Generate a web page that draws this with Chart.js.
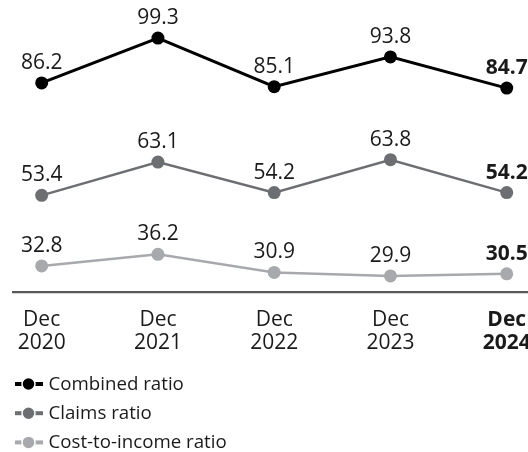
<!DOCTYPE html>
<html>
<head>
<meta charset="utf-8">
<style>
  html, body { margin: 0; padding: 0; background: #ffffff; }
  #wrap { width: 528px; height: 452px; position: relative; }
</style>
<script src="https://cdn.jsdelivr.net/npm/chart.js@4.4.1/dist/chart.umd.min.js"></script>
</head>
<body>
<div id="wrap"><canvas id="ratios"></canvas></div>
<script>
// Reporting periods (two-line axis labels)
const periods = [['Dec', '2020'], ['Dec', '2021'], ['Dec', '2022'], ['Dec', '2023'], ['Dec', '2024']];

// Ratios in %
const combinedRatio = [86.2, 99.3, 85.1, 93.8, 84.7];
const claimsRatio = [53.4, 63.1, 54.2, 63.8, 54.2];
const costToIncomeRatio = [32.8, 36.2, 30.9, 29.9, 30.5];

const seriesNames = ['Combined ratio', 'Claims ratio', 'Cost-to-income ratio'];
const seriesColors = ['#000000', '#6d6e71', '#a7a9ac'];
const seriesWidths = [3, 2.5, 2.5];

const FONT = '"Open Sans", "Noto Sans", sans-serif';
const TEXT = '#1a1a1a';
const lastIdx = periods.length - 1;

const seriesValues = [combinedRatio, claimsRatio, costToIncomeRatio];

const datasets = seriesValues.map((vals, s) => ({
  label: seriesNames[s],
  data: vals.map((v, i) => ({ x: i, y: v })),
  borderColor: seriesColors[s],
  backgroundColor: seriesColors[s],
  borderWidth: seriesWidths[s],
  pointRadius: 6.5,
  pointHoverRadius: 6.5,
  pointBorderWidth: 0,
  pointBackgroundColor: seriesColors[s],
  tension: 0,
  clip: false
}));

// Value labels above every point; the latest period is set in bold
const valueLabels = {
  id: 'valueLabels',
  afterDatasetsDraw(chart) {
    const ctx = chart.ctx;
    ctx.save();
    ctx.fillStyle = TEXT;
    ctx.textAlign = 'center';
    ctx.textBaseline = 'alphabetic';
    chart.data.datasets.forEach((ds, di) => {
      const meta = chart.getDatasetMeta(di);
      meta.data.forEach((pt, i) => {
        const v = ds.data[i].y;
        ctx.font = (i === lastIdx ? 'bold ' : '') + '21px ' + FONT;
        ctx.fillText(v.toFixed(1), pt.x, pt.y - 14);
      });
    });
    ctx.restore();
  }
};

// Vertical key under the axis labels
const seriesKey = {
  id: 'seriesKey',
  afterDraw(chart) {
    const ctx = chart.ctx;
    const top = chart.chartArea.bottom;
    ctx.save();
    chart.data.datasets.forEach((ds, di) => {
      const base = top + 98 + di * 29.2;
      const cy = base - 6;
      const col = ds.borderColor;
      ctx.strokeStyle = col;
      ctx.lineWidth = 4;
      ctx.beginPath();
      ctx.moveTo(15, cy);
      ctx.lineTo(43, cy);
      ctx.stroke();
      ctx.beginPath();
      ctx.arc(28.5, cy, 6.5, 0, Math.PI * 2);
      ctx.fillStyle = col;
      ctx.fill();
      ctx.lineWidth = 1.5;
      ctx.strokeStyle = '#ffffff';
      ctx.stroke();
      ctx.fillStyle = TEXT;
      ctx.font = '18.7px ' + FONT;
      ctx.textAlign = 'left';
      ctx.textBaseline = 'alphabetic';
      ctx.fillText(ds.label, 48.5, base);
    });
    ctx.restore();
  }
};

new Chart(document.getElementById('ratios'), {
  type: 'line',
  data: { datasets },
  plugins: [valueLabels, seriesKey],
  options: {
    responsive: true,
    maintainAspectRatio: false,
    animation: false,
    layout: { autoPadding: false, padding: { left: 13.3, right: 0, top: 0, bottom: 0 } },
    plugins: { legend: { display: false }, tooltip: { enabled: false } },
    scales: {
      x: {
        type: 'linear',
        min: -0.244,
        max: 4.183,
        afterBuildTicks: axis => { axis.ticks = periods.map((p, i) => ({ value: i })); },
        afterFit: axis => {
          axis.height = 160;
          axis.paddingLeft = 0;
          axis.paddingRight = 0;
        },
        grid: { display: false, drawTicks: false },
        border: { display: true, color: '#58595b', width: 2.3 },
        ticks: {
          autoSkip: false,
          maxRotation: 0,
          padding: 16,
          color: TEXT,
          callback: v => periods[v],
          font: c => ({
            family: FONT,
            size: 21,
            lineHeight: 1.12,
            weight: c.tick && c.tick.value === lastIdx ? 'bold' : 'normal'
          })
        }
      },
      y: {
        display: false,
        min: 25.2,
        max: 110.4
      }
    }
  }
});
</script>
</body>
</html>
